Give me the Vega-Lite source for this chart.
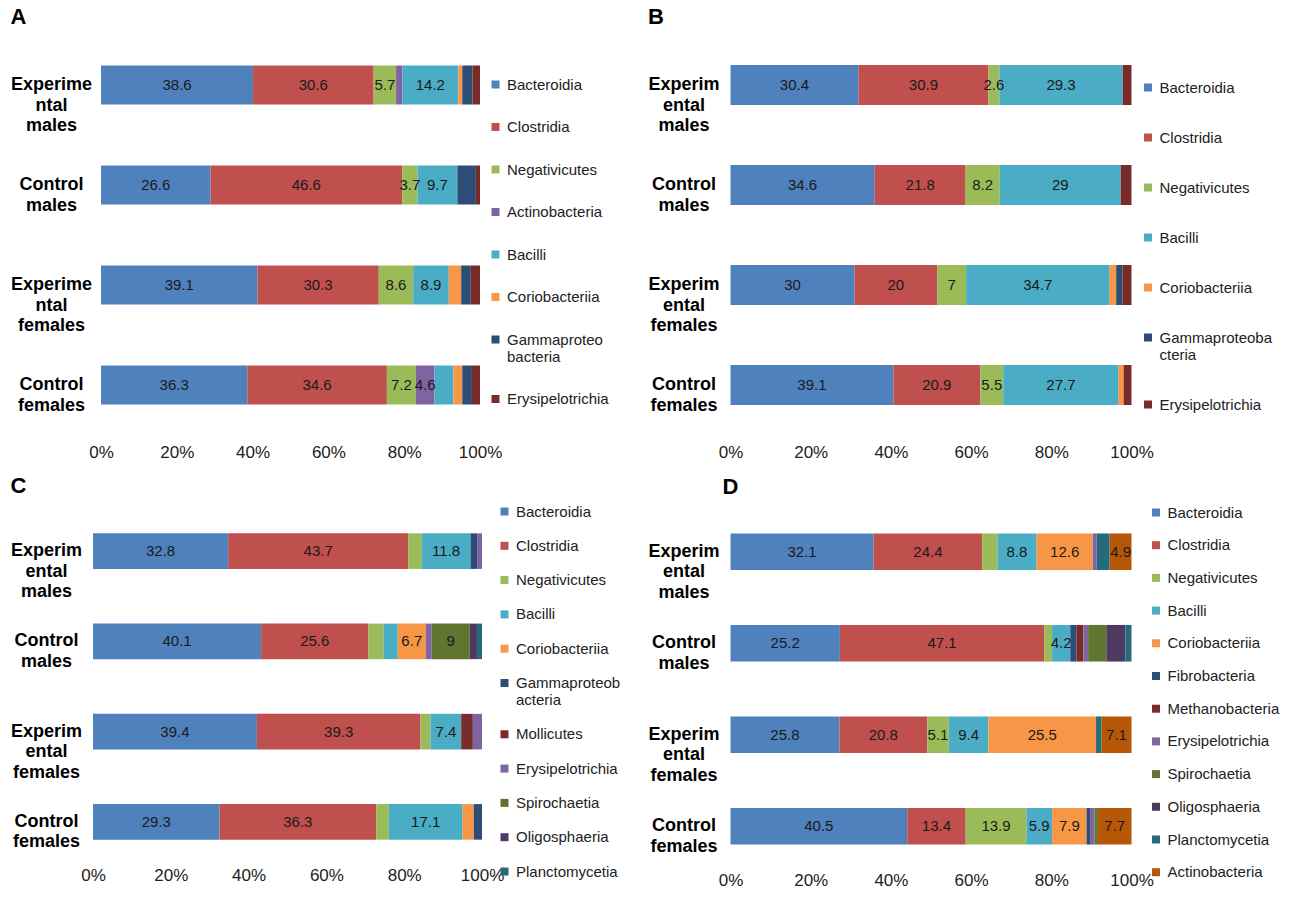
{
  "$schema": "https://vega.github.io/schema/vega-lite/v6.json",
  "background": "white",
  "padding": {"left": 10, "top": 6, "right": 0, "bottom": 0},
  "config": {"view": {"stroke": null}, "font": "Liberation Sans"},
  "data": {"values": [
    {"panel":"A","group":"Experimental males","cls":"Bacteroidia","value":38.6,"label":"38.6"},
    {"panel":"A","group":"Experimental males","cls":"Clostridia","value":30.6,"label":"30.6"},
    {"panel":"A","group":"Experimental males","cls":"Negativicutes","value":5.7,"label":"5.7"},
    {"panel":"A","group":"Experimental males","cls":"Actinobacteria","value":1.6,"label":""},
    {"panel":"A","group":"Experimental males","cls":"Bacilli","value":14.2,"label":"14.2"},
    {"panel":"A","group":"Experimental males","cls":"Coriobacteriia","value":1.0,"label":""},
    {"panel":"A","group":"Experimental males","cls":"Gammaproteobacteria","value":2.6,"label":""},
    {"panel":"A","group":"Experimental males","cls":"Erysipelotrichia","value":1.9,"label":""},
    {"panel":"A","group":"Control males","cls":"Bacteroidia","value":26.6,"label":"26.6"},
    {"panel":"A","group":"Control males","cls":"Clostridia","value":46.6,"label":"46.6"},
    {"panel":"A","group":"Control males","cls":"Negativicutes","value":3.7,"label":"3.7"},
    {"panel":"A","group":"Control males","cls":"Bacilli","value":9.7,"label":"9.7"},
    {"panel":"A","group":"Control males","cls":"Gammaproteobacteria","value":4.5,"label":""},
    {"panel":"A","group":"Control males","cls":"Erysipelotrichia","value":1.0,"label":""},
    {"panel":"A","group":"Experimental females","cls":"Bacteroidia","value":39.1,"label":"39.1"},
    {"panel":"A","group":"Experimental females","cls":"Clostridia","value":30.3,"label":"30.3"},
    {"panel":"A","group":"Experimental females","cls":"Negativicutes","value":8.6,"label":"8.6"},
    {"panel":"A","group":"Experimental females","cls":"Bacilli","value":8.9,"label":"8.9"},
    {"panel":"A","group":"Experimental females","cls":"Coriobacteriia","value":3.1,"label":""},
    {"panel":"A","group":"Experimental females","cls":"Gammaproteobacteria","value":2.4,"label":""},
    {"panel":"A","group":"Experimental females","cls":"Erysipelotrichia","value":2.3,"label":""},
    {"panel":"A","group":"Control females","cls":"Bacteroidia","value":36.3,"label":"36.3"},
    {"panel":"A","group":"Control females","cls":"Clostridia","value":34.6,"label":"34.6"},
    {"panel":"A","group":"Control females","cls":"Negativicutes","value":7.2,"label":"7.2"},
    {"panel":"A","group":"Control females","cls":"Actinobacteria","value":4.6,"label":"4.6"},
    {"panel":"A","group":"Control females","cls":"Bacilli","value":4.7,"label":""},
    {"panel":"A","group":"Control females","cls":"Coriobacteriia","value":2.2,"label":""},
    {"panel":"A","group":"Control females","cls":"Gammaproteobacteria","value":2.4,"label":""},
    {"panel":"A","group":"Control females","cls":"Erysipelotrichia","value":2.0,"label":""},

    {"panel":"B","group":"Experimental males","cls":"Bacteroidia","value":30.4,"label":"30.4"},
    {"panel":"B","group":"Experimental males","cls":"Clostridia","value":30.9,"label":"30.9"},
    {"panel":"B","group":"Experimental males","cls":"Negativicutes","value":2.6,"label":"2.6"},
    {"panel":"B","group":"Experimental males","cls":"Bacilli","value":29.3,"label":"29.3"},
    {"panel":"B","group":"Experimental males","cls":"Erysipelotrichia","value":2.1,"label":""},
    {"panel":"B","group":"Control males","cls":"Bacteroidia","value":34.6,"label":"34.6"},
    {"panel":"B","group":"Control males","cls":"Clostridia","value":21.8,"label":"21.8"},
    {"panel":"B","group":"Control males","cls":"Negativicutes","value":8.2,"label":"8.2"},
    {"panel":"B","group":"Control males","cls":"Bacilli","value":29,"label":"29"},
    {"panel":"B","group":"Control males","cls":"Erysipelotrichia","value":2.6,"label":""},
    {"panel":"B","group":"Experimental females","cls":"Bacteroidia","value":30,"label":"30"},
    {"panel":"B","group":"Experimental females","cls":"Clostridia","value":20,"label":"20"},
    {"panel":"B","group":"Experimental females","cls":"Negativicutes","value":7,"label":"7"},
    {"panel":"B","group":"Experimental females","cls":"Bacilli","value":34.7,"label":"34.7"},
    {"panel":"B","group":"Experimental females","cls":"Coriobacteriia","value":1.6,"label":""},
    {"panel":"B","group":"Experimental females","cls":"Gammaproteobacteria","value":1.5,"label":""},
    {"panel":"B","group":"Experimental females","cls":"Erysipelotrichia","value":2.2,"label":""},
    {"panel":"B","group":"Control females","cls":"Bacteroidia","value":39.1,"label":"39.1"},
    {"panel":"B","group":"Control females","cls":"Clostridia","value":20.9,"label":"20.9"},
    {"panel":"B","group":"Control females","cls":"Negativicutes","value":5.5,"label":"5.5"},
    {"panel":"B","group":"Control females","cls":"Bacilli","value":27.7,"label":"27.7"},
    {"panel":"B","group":"Control females","cls":"Coriobacteriia","value":1.2,"label":""},
    {"panel":"B","group":"Control females","cls":"Erysipelotrichia","value":1.9,"label":""},

    {"panel":"C","group":"Experimental males","cls":"Bacteroidia","value":32.8,"label":"32.8"},
    {"panel":"C","group":"Experimental males","cls":"Clostridia","value":43.7,"label":"43.7"},
    {"panel":"C","group":"Experimental males","cls":"Negativicutes","value":3.3,"label":""},
    {"panel":"C","group":"Experimental males","cls":"Bacilli","value":11.8,"label":"11.8"},
    {"panel":"C","group":"Experimental males","cls":"Gammaproteobacteria","value":1.6,"label":""},
    {"panel":"C","group":"Experimental males","cls":"Erysipelotrichia","value":1.2,"label":""},
    {"panel":"C","group":"Control males","cls":"Bacteroidia","value":40.1,"label":"40.1"},
    {"panel":"C","group":"Control males","cls":"Clostridia","value":25.6,"label":"25.6"},
    {"panel":"C","group":"Control males","cls":"Negativicutes","value":3.6,"label":""},
    {"panel":"C","group":"Control males","cls":"Bacilli","value":3.4,"label":""},
    {"panel":"C","group":"Control males","cls":"Coriobacteriia","value":6.7,"label":"6.7"},
    {"panel":"C","group":"Control males","cls":"Erysipelotrichia","value":1.4,"label":""},
    {"panel":"C","group":"Control males","cls":"Spirochaetia","value":9,"label":"9"},
    {"panel":"C","group":"Control males","cls":"Oligosphaeria","value":1.8,"label":""},
    {"panel":"C","group":"Control males","cls":"Planctomycetia","value":1.2,"label":""},
    {"panel":"C","group":"Experimental females","cls":"Bacteroidia","value":39.4,"label":"39.4"},
    {"panel":"C","group":"Experimental females","cls":"Clostridia","value":39.3,"label":"39.3"},
    {"panel":"C","group":"Experimental females","cls":"Negativicutes","value":2.4,"label":""},
    {"panel":"C","group":"Experimental females","cls":"Bacilli","value":7.4,"label":"7.4"},
    {"panel":"C","group":"Experimental females","cls":"Mollicutes","value":2.8,"label":""},
    {"panel":"C","group":"Experimental females","cls":"Erysipelotrichia","value":2.2,"label":""},
    {"panel":"C","group":"Control females","cls":"Bacteroidia","value":29.3,"label":"29.3"},
    {"panel":"C","group":"Control females","cls":"Clostridia","value":36.3,"label":"36.3"},
    {"panel":"C","group":"Control females","cls":"Negativicutes","value":2.9,"label":""},
    {"panel":"C","group":"Control females","cls":"Bacilli","value":17.1,"label":"17.1"},
    {"panel":"C","group":"Control females","cls":"Coriobacteriia","value":2.6,"label":""},
    {"panel":"C","group":"Control females","cls":"Gammaproteobacteria","value":1.9,"label":""},

    {"panel":"D","group":"Experimental males","cls":"Bacteroidia","value":32.1,"label":"32.1"},
    {"panel":"D","group":"Experimental males","cls":"Clostridia","value":24.4,"label":"24.4"},
    {"panel":"D","group":"Experimental males","cls":"Negativicutes","value":3.4,"label":""},
    {"panel":"D","group":"Experimental males","cls":"Bacilli","value":8.8,"label":"8.8"},
    {"panel":"D","group":"Experimental males","cls":"Coriobacteriia","value":12.6,"label":"12.6"},
    {"panel":"D","group":"Experimental males","cls":"Erysipelotrichia","value":0.9,"label":""},
    {"panel":"D","group":"Experimental males","cls":"Planctomycetia","value":2.9,"label":""},
    {"panel":"D","group":"Experimental males","cls":"Actinobacteria","value":4.9,"label":"4.9"},
    {"panel":"D","group":"Control males","cls":"Bacteroidia","value":25.2,"label":"25.2"},
    {"panel":"D","group":"Control males","cls":"Clostridia","value":47.1,"label":"47.1"},
    {"panel":"D","group":"Control males","cls":"Negativicutes","value":1.8,"label":""},
    {"panel":"D","group":"Control males","cls":"Bacilli","value":4.2,"label":"4.2"},
    {"panel":"D","group":"Control males","cls":"Fibrobacteria","value":1.4,"label":""},
    {"panel":"D","group":"Control males","cls":"Methanobacteria","value":1.6,"label":""},
    {"panel":"D","group":"Control males","cls":"Erysipelotrichia","value":1.1,"label":""},
    {"panel":"D","group":"Control males","cls":"Spirochaetia","value":4.2,"label":""},
    {"panel":"D","group":"Control males","cls":"Oligosphaeria","value":4.4,"label":""},
    {"panel":"D","group":"Control males","cls":"Planctomycetia","value":1.4,"label":""},
    {"panel":"D","group":"Experimental females","cls":"Bacteroidia","value":25.8,"label":"25.8"},
    {"panel":"D","group":"Experimental females","cls":"Clostridia","value":20.8,"label":"20.8"},
    {"panel":"D","group":"Experimental females","cls":"Negativicutes","value":5.1,"label":"5.1"},
    {"panel":"D","group":"Experimental females","cls":"Bacilli","value":9.4,"label":"9.4"},
    {"panel":"D","group":"Experimental females","cls":"Coriobacteriia","value":25.5,"label":"25.5"},
    {"panel":"D","group":"Experimental females","cls":"Planctomycetia","value":1.3,"label":""},
    {"panel":"D","group":"Experimental females","cls":"Actinobacteria","value":7.1,"label":"7.1"},
    {"panel":"D","group":"Control females","cls":"Bacteroidia","value":40.5,"label":"40.5"},
    {"panel":"D","group":"Control females","cls":"Clostridia","value":13.4,"label":"13.4"},
    {"panel":"D","group":"Control females","cls":"Negativicutes","value":13.9,"label":"13.9"},
    {"panel":"D","group":"Control females","cls":"Bacilli","value":5.9,"label":"5.9"},
    {"panel":"D","group":"Control females","cls":"Coriobacteriia","value":7.9,"label":"7.9"},
    {"panel":"D","group":"Control females","cls":"Fibrobacteria","value":0.8,"label":""},
    {"panel":"D","group":"Control females","cls":"Erysipelotrichia","value":1.0,"label":""},
    {"panel":"D","group":"Control females","cls":"Spirochaetia","value":0.8,"label":""},
    {"panel":"D","group":"Control females","cls":"Actinobacteria","value":7.7,"label":"7.7"}
  ]},
  "resolve": {"scale": {"color": "independent"}, "legend": {"color": "independent"}},
  "columns": 2,
  "spacing": {"row": 15, "column": 26.5},
  "concat": [
    {
      "width": 387, "height": 400,
      "title": {"text": "A", "anchor": "start", "frame": "bounds", "fontSize": 22, "fontWeight": "bold", "color": "#000", "offset": 6},
      "transform": [
        {"filter": "datum.panel == 'A'"},
        {"calculate": "indexof(['Bacteroidia','Clostridia','Negativicutes','Actinobacteria','Bacilli','Coriobacteriia','Gammaproteobacteria','Erysipelotrichia'], datum.cls)", "as": "k"}
      ],
      "layer": [
        {"mark": {"type": "bar"},
         "encoding": {
           "y": {"field": "group", "type": "nominal", "sort": ["Experimental males","Control males","Experimental females","Control females"],
                 "scale": {"paddingInner": 0.61, "paddingOuter": 0.305},
                 "axis": {"title": null, "ticks": false, "domain": false, "labelAlign": "center", "labelPadding": 42, "labelFontSize": 18, "labelFontWeight": "bold", "labelColor": "#000", "labelLineHeight": 20.5, "labelLimit": 300,
                          "labelExpr": "split(replace(datum.label, 'Experimental', 'Experime ntal'), ' ')"}},
           "x": {"field": "value", "type": "quantitative", "stack": "normalize", "scale": {"domain": [0, 1], "range": [8, 387]},
                 "axis": {"title": null, "format": "%", "values": [0, 0.2, 0.4, 0.6, 0.8, 1], "ticks": false, "domain": false, "grid": false, "labelFlush": false, "labelFontSize": 17, "labelColor": "#222", "labelPadding": 9}},
           "order": {"field": "k", "type": "quantitative"},
           "color": {"field": "cls", "type": "nominal",
                     "scale": {"domain": ["Bacteroidia","Clostridia","Negativicutes","Actinobacteria","Bacilli","Coriobacteriia","Gammaproteobacteria","Erysipelotrichia"],
                               "range": ["#4F81BD","#C0504D","#9BBB59","#8064A2","#4BACC6","#F79646","#2C4D75","#772C2A"]},
                     "legend": {"title": null, "orient": "none", "padding": 10, "legendX": 385, "legendY": 32, "symbolType": "square", "symbolSize": 64, "symbolStrokeWidth": 0, "labelFontSize": 15, "labelColor": "#222", "labelOffset": 4, "rowPadding": 26.5, "labelLimit": 300,
                                "labelExpr": "datum.label == 'Gammaproteobacteria' ? ['Gammaproteo', 'bacteria'] : datum.label"}}
         }},
        {"mark": {"type": "text", "fontSize": 15, "fill": "#1a1a1a", "baseline": "middle", "align": "center"},
         "encoding": {
           "y": {"field": "group", "type": "nominal", "sort": ["Experimental males","Control males","Experimental females","Control females"]},
           "x": {"field": "value", "type": "quantitative", "stack": "normalize", "bandPosition": 0.5},
           "order": {"field": "k", "type": "quantitative"},
           "text": {"field": "label", "type": "nominal"}
         }}
      ]
    },
    {
      "width": 401, "height": 400,
      "title": {"text": "B", "anchor": "start", "frame": "bounds", "fontSize": 22, "fontWeight": "bold", "color": "#000", "offset": 6},
      "transform": [
        {"filter": "datum.panel == 'B'"},
        {"calculate": "indexof(['Bacteroidia','Clostridia','Negativicutes','Bacilli','Coriobacteriia','Gammaproteobacteria','Erysipelotrichia'], datum.cls)", "as": "k"}
      ],
      "layer": [
        {"mark": {"type": "bar"},
         "encoding": {
           "y": {"field": "group", "type": "nominal", "sort": ["Experimental males","Control males","Experimental females","Control females"],
                 "scale": {"paddingInner": 0.6, "paddingOuter": 0.3},
                 "axis": {"title": null, "ticks": false, "domain": false, "labelAlign": "center", "labelPadding": 47, "labelFontSize": 18, "labelFontWeight": "bold", "labelColor": "#000", "labelLineHeight": 20.5, "labelLimit": 300,
                          "labelExpr": "split(replace(datum.label, 'Experimental', 'Experim ental'), ' ')"}},
           "x": {"field": "value", "type": "quantitative", "stack": "normalize", "scale": {"domain": [0, 1]},
                 "axis": {"title": null, "format": "%", "values": [0, 0.2, 0.4, 0.6, 0.8, 1], "ticks": false, "domain": false, "grid": false, "labelFlush": false, "labelFontSize": 17, "labelColor": "#222", "labelPadding": 9}},
           "order": {"field": "k", "type": "quantitative"},
           "color": {"field": "cls", "type": "nominal",
                     "scale": {"domain": ["Bacteroidia","Clostridia","Negativicutes","Bacilli","Coriobacteriia","Gammaproteobacteria","Erysipelotrichia"],
                               "range": ["#4F81BD","#C0504D","#9BBB59","#4BACC6","#F79646","#2C4D75","#772C2A"]},
                     "legend": {"title": null, "orient": "none", "legendX": 410, "legendY": 45, "symbolType": "square", "symbolSize": 64, "symbolStrokeWidth": 0, "labelFontSize": 15, "labelColor": "#222", "labelOffset": 4, "rowPadding": 34, "labelLimit": 300,
                                "labelExpr": "datum.label == 'Gammaproteobacteria' ? ['Gammaproteoba', 'cteria'] : datum.label"}}
         }},
        {"mark": {"type": "text", "fontSize": 15, "fill": "#1a1a1a", "baseline": "middle", "align": "center"},
         "encoding": {
           "y": {"field": "group", "type": "nominal", "sort": ["Experimental males","Control males","Experimental females","Control females"]},
           "x": {"field": "value", "type": "quantitative", "stack": "normalize", "bandPosition": 0.5},
           "order": {"field": "k", "type": "quantitative"},
           "text": {"field": "label", "type": "nominal"}
         }}
      ]
    },
    {
      "width": 389, "height": 361,
      "title": {"text": "C", "anchor": "start", "frame": "bounds", "fontSize": 22, "fontWeight": "bold", "color": "#000", "offset": 6},
      "transform": [
        {"filter": "datum.panel == 'C'"},
        {"calculate": "indexof(['Bacteroidia','Clostridia','Negativicutes','Bacilli','Coriobacteriia','Gammaproteobacteria','Mollicutes','Erysipelotrichia','Spirochaetia','Oligosphaeria','Planctomycetia'], datum.cls)", "as": "k"}
      ],
      "layer": [
        {"mark": {"type": "bar"},
         "encoding": {
           "y": {"field": "group", "type": "nominal", "sort": ["Experimental males","Control males","Experimental females","Control females"],
                 "scale": {"paddingInner": 0.606, "paddingOuter": 0.303},
                 "axis": {"title": null, "ticks": false, "domain": false, "labelAlign": "center", "labelPadding": 47, "labelFontSize": 18, "labelFontWeight": "bold", "labelColor": "#000", "labelLineHeight": 20.5, "labelLimit": 300,
                          "labelExpr": "split(replace(datum.label, 'Experimental', 'Experim ental'), ' ')"}},
           "x": {"field": "value", "type": "quantitative", "stack": "normalize", "scale": {"domain": [0, 1]},
                 "axis": {"title": null, "format": "%", "values": [0, 0.2, 0.4, 0.6, 0.8, 1], "ticks": false, "domain": false, "grid": false, "labelFlush": false, "labelFontSize": 17, "labelColor": "#222", "labelPadding": 0}},
           "order": {"field": "k", "type": "quantitative"},
           "color": {"field": "cls", "type": "nominal",
                     "scale": {"domain": ["Bacteroidia","Clostridia","Negativicutes","Bacilli","Coriobacteriia","Gammaproteobacteria","Mollicutes","Erysipelotrichia","Spirochaetia","Oligosphaeria","Planctomycetia"],
                               "range": ["#4F81BD","#C0504D","#9BBB59","#4BACC6","#F79646","#2C4D75","#772C2A","#8064A2","#5F7530","#4D3B62","#276A7C"]},
                     "legend": {"title": null, "orient": "none", "legendX": 404, "legendY": -2, "symbolType": "square", "symbolSize": 64, "symbolStrokeWidth": 0, "labelFontSize": 15, "labelColor": "#222", "labelOffset": 4, "rowPadding": 18.3, "labelLimit": 300,
                                "labelExpr": "datum.label == 'Gammaproteobacteria' ? ['Gammaproteob', 'acteria'] : datum.label"}}
         }},
        {"mark": {"type": "text", "fontSize": 15, "fill": "#1a1a1a", "baseline": "middle", "align": "center"},
         "encoding": {
           "y": {"field": "group", "type": "nominal", "sort": ["Experimental males","Control males","Experimental females","Control females"]},
           "x": {"field": "value", "type": "quantitative", "stack": "normalize", "bandPosition": 0.5},
           "order": {"field": "k", "type": "quantitative"},
           "text": {"field": "label", "type": "nominal"}
         }}
      ]
    },
    {
      "width": 401, "height": 366,
      "title": {"text": "D", "anchor": "start", "frame": "group", "dx": -8, "fontSize": 22, "fontWeight": "bold", "color": "#000", "offset": 6},
      "transform": [
        {"filter": "datum.panel == 'D'"},
        {"calculate": "indexof(['Bacteroidia','Clostridia','Negativicutes','Bacilli','Coriobacteriia','Fibrobacteria','Methanobacteria','Erysipelotrichia','Spirochaetia','Oligosphaeria','Planctomycetia','Actinobacteria'], datum.cls)", "as": "k"}
      ],
      "layer": [
        {"mark": {"type": "bar"},
         "encoding": {
           "y": {"field": "group", "type": "nominal", "sort": ["Experimental males","Control males","Experimental females","Control females"],
                 "scale": {"paddingInner": 0.6, "paddingOuter": 0.3},
                 "axis": {"title": null, "ticks": false, "domain": false, "labelAlign": "center", "labelPadding": 47, "labelFontSize": 18, "labelFontWeight": "bold", "labelColor": "#000", "labelLineHeight": 20.5, "labelLimit": 300,
                          "labelExpr": "split(replace(datum.label, 'Experimental', 'Experim ental'), ' ')"}},
           "x": {"field": "value", "type": "quantitative", "stack": "normalize", "scale": {"domain": [0, 1]},
                 "axis": {"title": null, "format": "%", "values": [0, 0.2, 0.4, 0.6, 0.8, 1], "ticks": false, "domain": false, "grid": false, "labelFlush": false, "labelFontSize": 17, "labelColor": "#222", "labelPadding": 0}},
           "order": {"field": "k", "type": "quantitative"},
           "color": {"field": "cls", "type": "nominal",
                     "scale": {"domain": ["Bacteroidia","Clostridia","Negativicutes","Bacilli","Coriobacteriia","Fibrobacteria","Methanobacteria","Erysipelotrichia","Spirochaetia","Oligosphaeria","Planctomycetia","Actinobacteria"],
                               "range": ["#4F81BD","#C0504D","#9BBB59","#4BACC6","#F79646","#2C4D75","#772C2A","#8064A2","#5F7530","#4D3B62","#276A7C","#B65708"]},
                     "legend": {"title": null, "orient": "none", "legendX": 418, "legendY": -1, "symbolType": "square", "symbolSize": 64, "symbolStrokeWidth": 0, "labelFontSize": 15, "labelColor": "#222", "labelOffset": 4, "rowPadding": 16.7, "labelLimit": 300}}
         }},
        {"mark": {"type": "text", "fontSize": 15, "fill": "#1a1a1a", "baseline": "middle", "align": "center"},
         "encoding": {
           "y": {"field": "group", "type": "nominal", "sort": ["Experimental males","Control males","Experimental females","Control females"]},
           "x": {"field": "value", "type": "quantitative", "stack": "normalize", "bandPosition": 0.5},
           "order": {"field": "k", "type": "quantitative"},
           "text": {"field": "label", "type": "nominal"}
         }}
      ]
    }
  ]
}
